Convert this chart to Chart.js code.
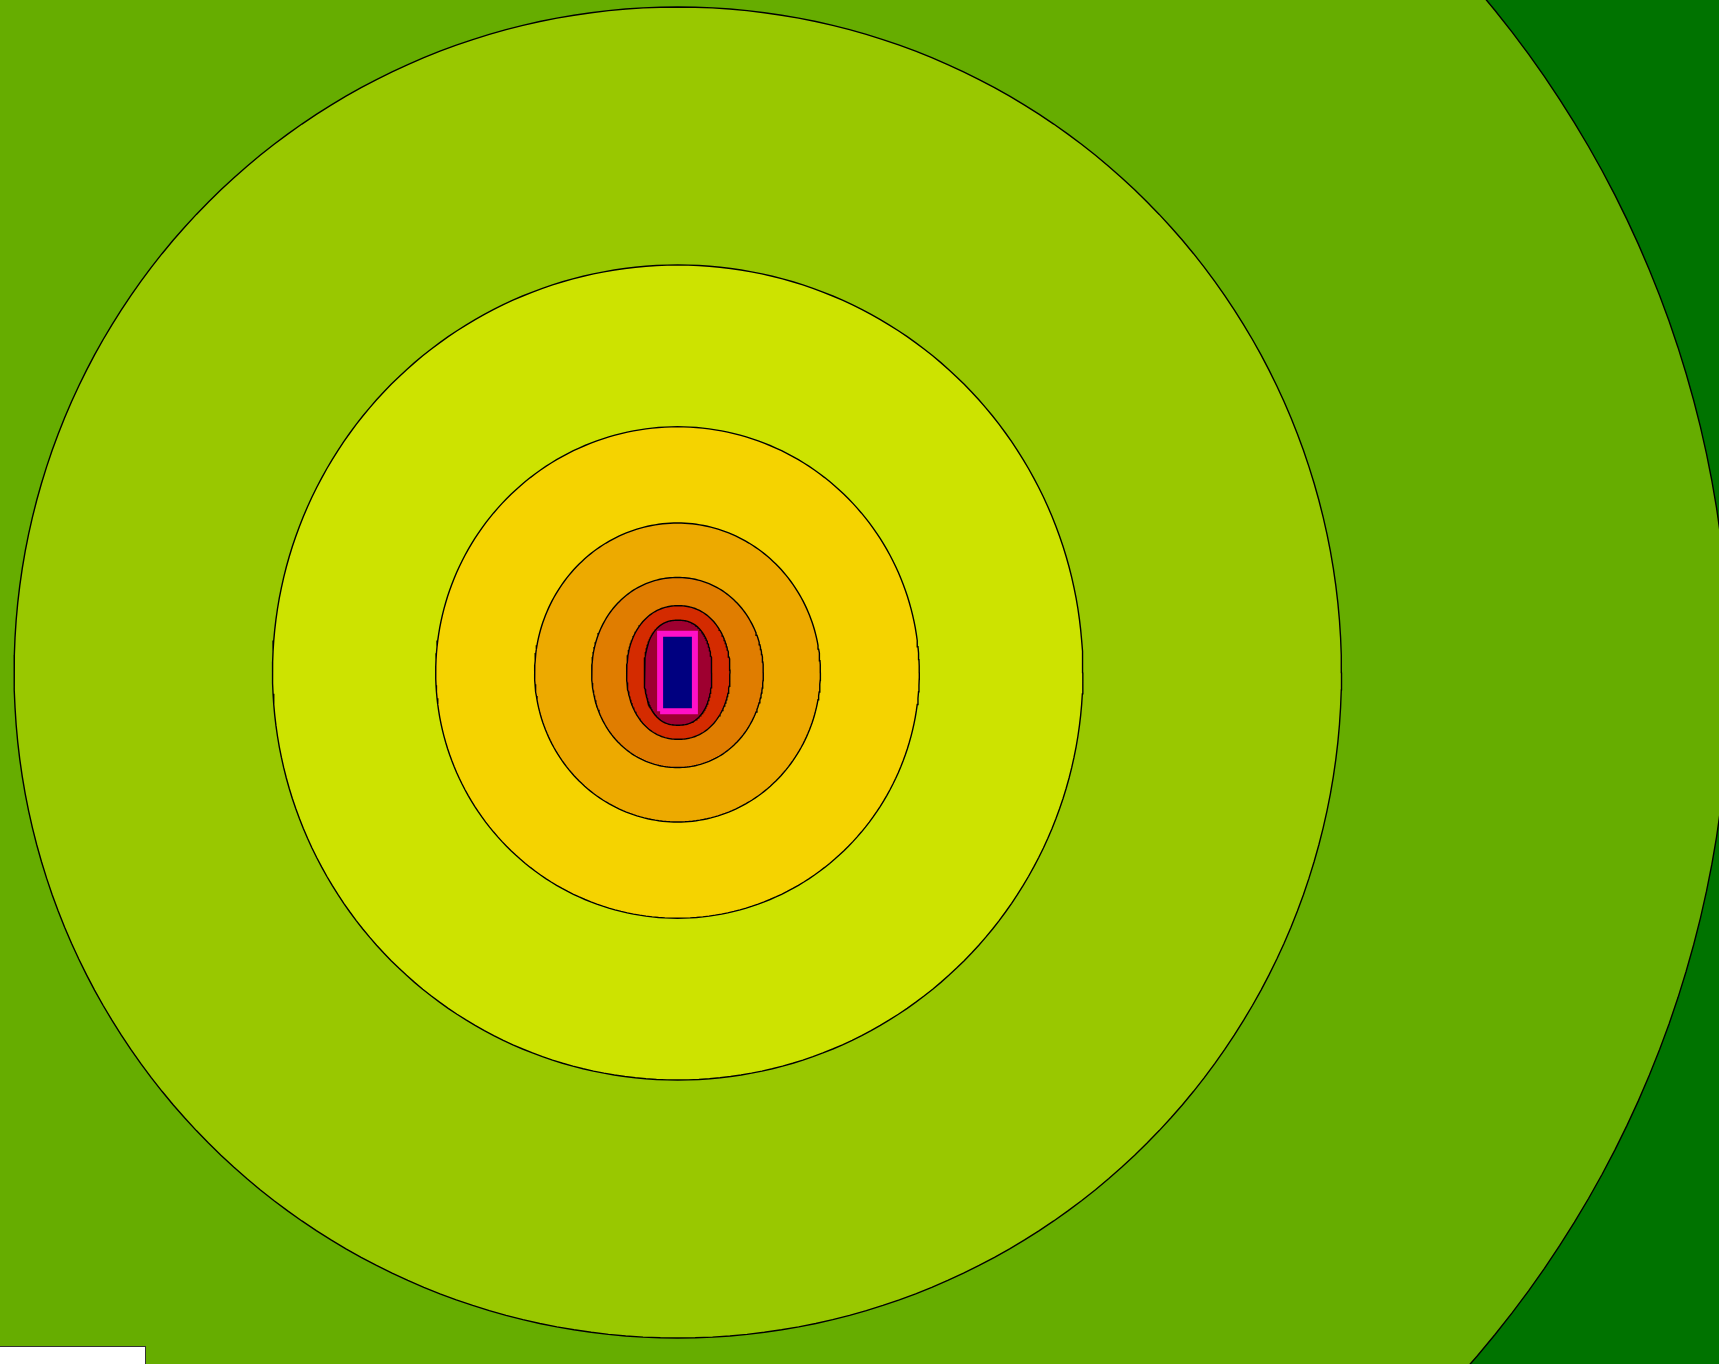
<!DOCTYPE html>
<html>
<head>
<meta charset="utf-8">
<title>Contour map</title>
<script src="https://cdn.jsdelivr.net/npm/chart.js@4.4.1/dist/chart.umd.min.js"></script>
<style>
  html, body { margin: 0; padding: 0; background: #ffffff; overflow: hidden; }
  #wrap { position: relative; width: 1719px; height: 1364px; }
  #map { display: block; background: #007300; }
  #keybox {
    position: absolute; left: 0; top: 1346px; width: 145px; height: 18px;
    background: #ffffff; border-top: 1px solid #333; border-right: 1px solid #333;
  }
</style>
</head>
<body>
<div id="wrap">
  <canvas id="map" width="1719" height="1364"></canvas>
  <div id="keybox"></div>
</div>
<script>
// Contour bands, listed from the outermost level inward.
// Semi-axes are measured from the source centre (units: metres on the map grid).
const levelNames   = ['L1', 'L2', 'L3', 'L4', 'L5', 'L6', 'L7', 'L8', 'L9'];
const semiAxisX    = [1052, 663.7, 405.2, 241.8, 142.9, 85.8, 51.7, 33.8];
const semiAxisY    = [1052, 665.5, 407.5, 245.7, 149.5, 95.0, 66.8, 52.5];
const shapeExp     = [2.0, 2.0, 2.0, 2.0, 2.0, 2.05, 2.15, 2.35];
const bandColors   = ['#66AD00', '#99C800', '#CDE300', '#F5D300', '#EDAA00', '#E07D00', '#D42B00', '#9E0030'];
const centreOffX   = [0, 0.3, 0.2, 0, 0, 0, 0.8, 0.5];
const centreOffY   = [0, 0, 0, 0, 0, 0, 0, -0.2];

// Source footprint (rectangle) and the background band colour
const sourceHalfW  = 17.4;
const sourceHalfH  = 38.7;
const sourceFill   = '#000080';
const sourceEdge   = '#FF10C8';
const outerColor   = '#007300';

// Visible map window around the source
const xRange = [-677.5, 1041.5];
const yRange = [-691.5, 672.5];

function contourOutline(a, b, n, cx, cy) {
  const pts = [];
  const steps = 240;
  for (let k = 0; k <= steps; k++) {
    const t = (k / steps) * Math.PI * 2;
    const c = Math.cos(t), s = Math.sin(t);
    pts.push({
      x: cx + a * Math.sign(c) * Math.pow(Math.abs(c), 2 / n),
      y: cy + b * Math.sign(s) * Math.pow(Math.abs(s), 2 / n)
    });
  }
  return pts;
}

const datasets = semiAxisX.map((a, i) => ({
  label: levelNames[i],
  data: contourOutline(a, semiAxisY[i], shapeExp[i], centreOffX[i], centreOffY[i]),
  showLine: true,
  fill: 'shape',
  backgroundColor: bandColors[i],
  borderColor: '#000000',
  borderWidth: 1.4,
  pointRadius: 0,
  tension: 0,
  order: semiAxisX.length + 1 - i
}));

datasets.push({
  label: levelNames[8],
  data: [
    { x: -sourceHalfW, y: -sourceHalfH },
    { x:  sourceHalfW, y: -sourceHalfH },
    { x:  sourceHalfW, y:  sourceHalfH },
    { x: -sourceHalfW, y:  sourceHalfH },
    { x: -sourceHalfW, y: -sourceHalfH }
  ],
  showLine: true,
  fill: 'shape',
  backgroundColor: sourceFill,
  borderColor: sourceEdge,
  borderWidth: 6,
  borderJoinStyle: 'miter',
  pointRadius: 0,
  tension: 0,
  order: 0
});

new Chart(document.getElementById('map'), {
  type: 'scatter',
  data: { datasets },
  options: {
    responsive: false,
    devicePixelRatio: 1,
    animation: false,
    layout: { padding: 0 },
    plugins: { legend: { display: false }, tooltip: { enabled: false } },
    scales: {
      x: { type: 'linear', min: xRange[0], max: xRange[1], display: false },
      y: { type: 'linear', min: yRange[0], max: yRange[1], display: false }
    }
  }
});
</script>
</body>
</html>
